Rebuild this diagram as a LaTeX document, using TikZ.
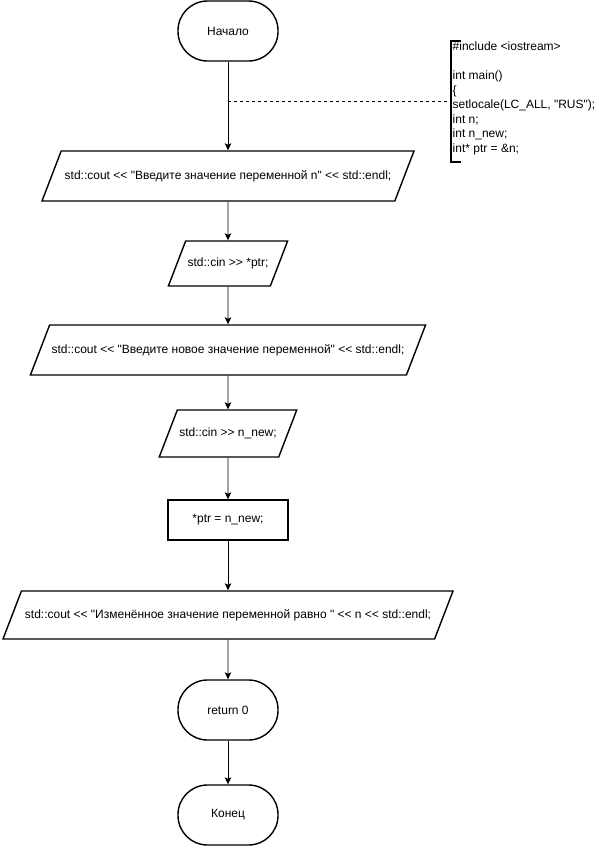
\documentclass[tikz,border=0pt]{standalone}
\usepackage{fontspec}
\setmainfont{Liberation Sans}[Ligatures=TeXOff]
\usetikzlibrary{shapes.geometric,arrows.meta}

\tikzset{
	terminal/.style={draw, line width=1.4pt, rounded corners=29.5pt, minimum width=100pt, minimum height=60pt, inner sep=0pt},
	inout/.style={draw, line width=1.4pt, trapezium, trapezium left angle=69, trapezium right angle=111, trapezium stretches body, text height=9pt, text depth=3pt, inner xsep=2pt, inner ysep=19pt},
	process/.style={draw, line width=1.4pt, minimum width=120pt, minimum height=40pt},
	flow/.style={draw, line width=0.8pt, -{Stealth[length=7pt,width=6.5pt,inset=1.5pt]}}
}

\begin{document}
\begin{tikzpicture}[x=1pt, y=-1pt, font=\fontsize{12}{14.5}\selectfont]
	\useasboundingbox (0,0) rectangle (598,849);

	% Define the blocks of the flowchart
	\node[terminal] (start) at (228,31) {Начало};
	\node[inout, minimum width=372pt] (askn) at (228,176) {std::cout << "Введите значение переменной n" << std::endl;};
	\node[inout, minimum width=110pt, inner ysep=16.5pt] (readptr) at (228,263.5) {std::cin >> *ptr;};
	\node[inout, minimum width=390pt] (asknew) at (228,350) {std::cout << "Введите новое значение переменной" << std::endl;};
	\node[inout, minimum width=130pt, inner ysep=17.5pt] (readnew) at (228,433.5) {std::cin >> n\_new;};
	\node[process] (assign) at (228,520) {*ptr = n\_new;};
	\node[inout, minimum width=450pt, inner ysep=18pt] (result) at (228,615) {std::cout << "Изменённое значение переменной равно " << n << std::endl;};
	\node[terminal] (ret) at (228,710) {return 0};
	\node[terminal] (stop) at (228,815) {Конец};

	% Draw the connectors
	\draw[flow] (start) -- (askn);
	\draw[flow] (askn) -- (readptr);
	\draw[flow] (readptr) -- (asknew);
	\draw[flow] (asknew) -- (readnew);
	\draw[flow] (readnew) -- (assign);
	\draw[flow] (assign) -- (result);
	\draw[flow] (result) -- (ret);
	\draw[flow] (ret) -- (stop);

	% Comment with the declarations
	\coordinate (split) at (228,101);
	\coordinate (note) at (451,101);
	\draw[line width=0.8pt, dash pattern=on 3pt off 3pt] (split) -- (note);
	\draw[line width=1.4pt] (461,41) -- (451,41) -- (451,162) -- (461,162);
	\node[anchor=north west, align=left, inner xsep=1.5pt, inner ysep=1pt] (decl) at (451,41)
		{\#include <iostream>\\[14.5pt]int main()\\\{\\setlocale(LC\_ALL, "RUS");\\int n;\\int n\_new;\\int* ptr = \&n;};
\end{tikzpicture}
\end{document}
